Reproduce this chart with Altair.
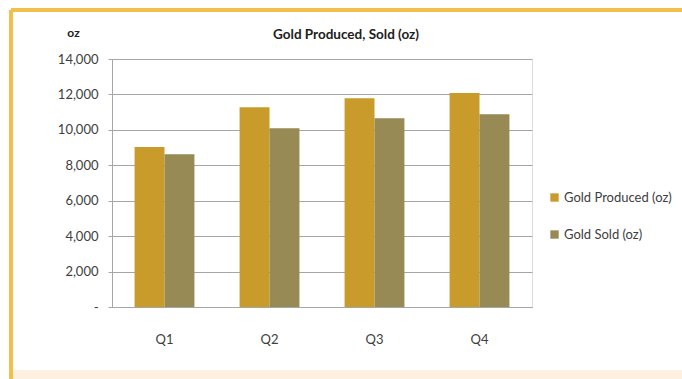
import altair as alt
import pandas as pd

quarters = ["Q1", "Q2", "Q3", "Q4"]
series = ["Gold Produced (oz)", "Gold Sold (oz)"]
produced = [9030, 11280, 11780, 12080]
sold = [8620, 10090, 10650, 10880]
colors = ["#C99B2B", "#978A55"]

rows = []
for q, p, s in zip(quarters, produced, sold):
    rows.append({"Quarter": q, "Series": series[0], "Value": p})
    rows.append({"Quarter": q, "Series": series[1], "Value": s})
df = pd.DataFrame(rows)

FONT = "Lato"

bars = alt.Chart(df).mark_bar().encode(
    x=alt.X("Quarter:N", sort=quarters,
            scale=alt.Scale(paddingInner=0.43, paddingOuter=0.215),
            axis=alt.Axis(title=None, labelAngle=0, ticks=False, labelPadding=26,
                          domainColor="#A6A6A6", labelFontSize=13, labelColor="#404040",
                          labelFont=FONT)),
    xOffset=alt.XOffset("Series:N", sort=series, scale=alt.Scale(paddingInner=0, paddingOuter=0)),
    y=alt.Y("Value:Q", scale=alt.Scale(domain=[0, 14000]),
            axis=alt.Axis(values=list(range(0, 14001, 2000)),
                          labelExpr="datum.value == 0 ? '-' : format(datum.value, ',')",
                          title="oz", titleAngle=0, titleX=-39, titleY=-20,
                          titleFont=FONT, titleFontSize=12, titleFontWeight="bold",
                          titleColor="#202020", titleAlign="center",
                          labelFont=FONT, labelFontSize=13, labelColor="#404040",
                          labelPadding=10, tickSize=4, tickColor="#A6A6A6",
                          domainColor="#A6A6A6", gridColor="#A6A6A6")),
    color=alt.Color("Series:N", sort=series,
                    scale=alt.Scale(domain=series, range=colors),
                    legend=alt.Legend(title=None, orient="none", legendX=436, legendY=132,
                                      symbolType="square", symbolSize=70, symbolStrokeWidth=0,
                                      labelFont=FONT, labelFontSize=13, labelColor="#404040",
                                      rowPadding=23, labelOffset=3)),
)

border_left = alt.Chart(df).mark_rule(color="#F2C04A", strokeWidth=3).encode(
    x=alt.value(-101), y=alt.value(-49), y2=alt.value(320))
border_top = alt.Chart(df).mark_rule(color="#F2C04A", strokeWidth=3).encode(
    x=alt.value(-101), x2=alt.value(575), y=alt.value(-49))
bottom_band = alt.Chart(df).mark_rect(color="#FDF0E0").encode(
    x=alt.value(-100), x2=alt.value(575), y=alt.value(311), y2=alt.value(320))

chart = alt.layer(bottom_band, border_left, border_top, bars).properties(
    width=420, height=248,
    title=alt.Title("Gold Produced, Sold (oz)", font=FONT, fontSize=13.5, fontWeight="bold",
                    color="#202020", anchor="middle", offset=-33, dx=24),
    autosize=alt.AutoSizeParams(type="none"),
    padding={"left": 112, "top": 59, "right": 150, "bottom": 72},
).configure_view(stroke=None).configure(background="white")

chart.save("out.html", embed_options={"renderer": "svg", "actions": False})
